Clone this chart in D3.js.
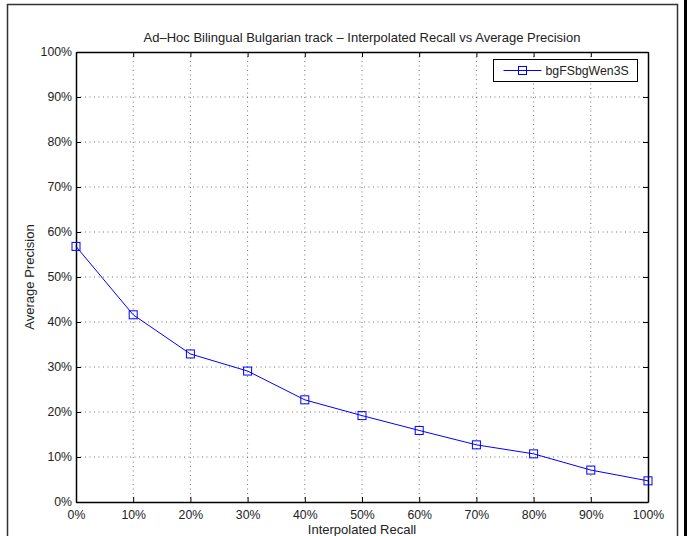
<!DOCTYPE html>
<html>
<head>
<meta charset="utf-8">
<script src="https://cdn.jsdelivr.net/npm/d3@7"></script>
<style>
  body { margin: 0; background: #fff; }
  text { font-family: "Liberation Sans", Arial, sans-serif; }
</style>
</head>
<body>
<div id="chart"></div>
<script>
// Chart data
const recall = [0, 10, 20, 30, 40, 50, 60, 70, 80, 90, 100];
const precision = [56.8, 41.6, 32.9, 29.1, 22.7, 19.2, 15.9, 12.7, 10.7, 7.1, 4.7];
const seriesName = "bgFSbgWen3S";
const tickValues = [0, 10, 20, 30, 40, 50, 60, 70, 80, 90, 100];

// Dimensions
const W = 687, H = 536;
const margin = { top: 52, right: 39, bottom: 34, left: 76 },
    width = W - margin.left - margin.right,
    height = H - margin.top - margin.bottom;

const svg = d3.select("#chart")
    .append("svg")
    .attr("width", W)
    .attr("height", H);

// Outer figure frame
svg.append("path")
    .attr("d", `M7.5,${H} V4.5 H677.5 V${H}`)
    .attr("fill", "none")
    .attr("stroke", "#333")
    .attr("stroke-width", 1.5);
svg.append("rect")
    .attr("x", 684).attr("y", 0)
    .attr("width", 3).attr("height", H)
    .attr("fill", "#000");

const g = svg.append("g")
    .attr("transform", `translate(${margin.left},${margin.top})`);

// Scales
const x = d3.scaleLinear().domain([0, 100]).range([0, width]);
const y = d3.scaleLinear().domain([0, 100]).range([height, 0]);

// Grid lines (dotted)
g.append("g")
    .selectAll("line.vgrid")
    .data(tickValues.slice(1, -1))
    .join("line")
    .attr("x1", d => x(d)).attr("x2", d => x(d))
    .attr("y1", 0).attr("y2", height)
    .attr("stroke", "#777")
    .attr("stroke-width", 1)
    .attr("stroke-dasharray", "1,3.5");

g.append("g")
    .selectAll("line.hgrid")
    .data(tickValues.slice(1, -1))
    .join("line")
    .attr("x1", 0).attr("x2", width)
    .attr("y1", d => y(d)).attr("y2", d => y(d))
    .attr("stroke", "#777")
    .attr("stroke-width", 1)
    .attr("stroke-dasharray", "1,3.5");

// Axes with inward ticks
const fmt = d => d + "%";
const xAxis = g.append("g")
    .attr("transform", `translate(0,${height})`)
    .call(d3.axisBottom(x).tickValues(tickValues).tickFormat(fmt).tickSizeInner(-5).tickSizeOuter(0).tickPadding(8));
const xAxisTop = g.append("g")
    .call(d3.axisTop(x).tickValues(tickValues).tickFormat("").tickSizeInner(-5).tickSizeOuter(0));
const yAxis = g.append("g")
    .call(d3.axisLeft(y).tickValues(tickValues).tickFormat(fmt).tickSizeInner(-5).tickSizeOuter(0).tickPadding(4));
const yAxisRight = g.append("g")
    .attr("transform", `translate(${width},0)`)
    .call(d3.axisRight(y).tickValues(tickValues).tickFormat("").tickSizeInner(-5).tickSizeOuter(0));

[xAxis, xAxisTop, yAxis, yAxisRight].forEach(a => {
    a.select(".domain").attr("stroke", "#000").attr("stroke-width", 1.5);
    a.selectAll(".tick line").attr("stroke", "#000");
    a.selectAll("text").attr("font-size", 12.3).attr("fill", "#222")
        .attr("font-family", "Liberation Sans, Arial, sans-serif");
});
yAxis.selectAll("text").attr("dy", "0.32em");
xAxis.selectAll("text").attr("dy", "0.71em");

// Line
const line = d3.line()
    .x((d, i) => x(recall[i]))
    .y(d => y(d));

g.append("path")
    .datum(precision)
    .attr("fill", "none")
    .attr("stroke", "#0000ff")
    .attr("stroke-width", 1)
    .attr("d", line);

// Square markers
g.selectAll("rect.marker")
    .data(precision)
    .join("rect")
    .attr("class", "marker")
    .attr("x", (d, i) => x(recall[i]) - 4)
    .attr("y", d => y(d) - 4)
    .attr("width", 8)
    .attr("height", 8)
    .attr("fill", "none")
    .attr("stroke", "#0000ff")
    .attr("stroke-width", 1);

// Title
svg.append("text")
    .attr("x", margin.left + width / 2)
    .attr("y", 42)
    .attr("text-anchor", "middle")
    .attr("font-size", 13)
    .attr("fill", "#222")
    .text("Ad\u2013Hoc Bilingual Bulgarian track \u2013 Interpolated Recall vs Average Precision");

// Axis labels
svg.append("text")
    .attr("x", margin.left + width / 2)
    .attr("y", 534)
    .attr("text-anchor", "middle")
    .attr("font-size", 13)
    .attr("fill", "#222")
    .text("Interpolated Recall");

svg.append("text")
    .attr("transform", `translate(34,${margin.top + height / 2}) rotate(-90)`)
    .attr("text-anchor", "middle")
    .attr("font-size", 13)
    .attr("fill", "#222")
    .text("Average Precision");

// Legend
const legend = svg.append("g").attr("transform", "translate(493.5,59.5)");
legend.append("rect")
    .attr("width", 144).attr("height", 22)
    .attr("fill", "#fff")
    .attr("stroke", "#000")
    .attr("stroke-width", 1);
legend.append("line")
    .attr("x1", 10).attr("x2", 48)
    .attr("y1", 11).attr("y2", 11)
    .attr("stroke", "#0000ff");
legend.append("rect")
    .attr("x", 25).attr("y", 7)
    .attr("width", 8).attr("height", 8)
    .attr("fill", "none")
    .attr("stroke", "#0000ff");
legend.append("text")
    .attr("x", 52).attr("y", 15.5)
    .attr("font-size", 12.3)
    .attr("fill", "#222")
    .text(seriesName);
</script>
</body>
</html>
